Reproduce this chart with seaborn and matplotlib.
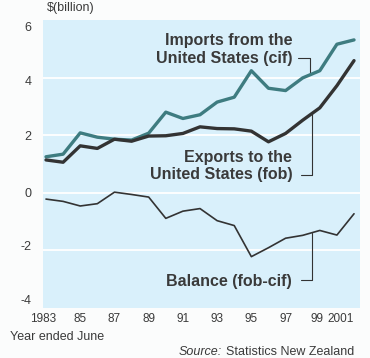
import numpy as np
import pandas as pd
import matplotlib
matplotlib.use("Agg")
import matplotlib.pyplot as plt
import matplotlib.transforms as mtransforms
import seaborn as sns

# Trade with the United States, $ billion, year ended June
years = list(range(1983, 2002))
imports_cif = [1.25, 1.34, 2.08, 1.93, 1.86, 1.83, 2.07, 2.80, 2.58, 2.71,
               3.15, 3.32, 4.24, 3.63, 3.55, 3.99, 4.24, 5.16, 5.31]
exports_fob = [1.14, 1.06, 1.63, 1.54, 1.86, 1.79, 1.97, 1.98, 2.06, 2.29,
               2.23, 2.22, 2.14, 1.77, 2.06, 2.52, 2.95, 3.72, 4.59]
balance = [-0.22, -0.30, -0.46, -0.38, 0.02, -0.06, -0.15, -0.89, -0.64, -0.55,
           -0.97, -1.14, -2.22, -1.91, -1.58, -1.48, -1.31, -1.47, -0.73]

tick_years = [1983, 1985, 1987, 1989, 1991, 1993, 1995, 1997, 1999, 2001]
tick_labels = ['1983', '85', '87', '89', '91', '93', '95', '97', '99', '2001']
y_ticks = [-4, -2, 0, 2, 4, 6]

df = pd.DataFrame({'year': years, 'imports': imports_cif,
                   'exports': exports_fob, 'balance': balance})

sns.set_style("white")
plt.rcParams['font.family'] = ['Liberation Sans', 'DejaVu Sans']

teal = '#3e7c80'
dark = '#333333'
text_col = '#3a3a3a'

fig = plt.figure(figsize=(3.70, 3.58), dpi=100)
fig.patch.set_facecolor('#fbfcfc')
ax = fig.add_axes([0.116, 0.14, 0.857, 0.804])
ax.set_facecolor('#d9f0fb')

ax.set_xlim(1982.82, 2001.35)
ax.set_ylim(-4, 6)
for v in [-2, 0, 2, 4]:
    ax.axhline(v, color='white', lw=1.3, zorder=1)

sns.lineplot(data=df, x='year', y='imports', color=teal, lw=2.4, ax=ax, zorder=3)
sns.lineplot(data=df, x='year', y='exports', color=dark, lw=2.4, ax=ax, zorder=4)
sns.lineplot(data=df, x='year', y='balance', color=dark, lw=1.2, ax=ax, zorder=3)

for s in ax.spines.values():
    s.set_visible(False)
ax.tick_params(length=0, labelsize=9, labelcolor=text_col)
ax.tick_params(axis='x', labelsize=8.5, pad=4)
ax.set_xticks(tick_years)
ax.set_xticklabels(tick_labels)
ax.set_yticks(y_ticks)
ax.set_yticklabels([str(t) for t in y_ticks])
ax.tick_params(axis='y', pad=8)
ax.set_xlabel('')
ax.set_ylabel('')


def nudge(lab, dx, dy):
    lab.set_transform(lab.get_transform() +
                      mtransforms.ScaledTranslation(dx / 100, dy / 100, fig.dpi_scale_trans))


# crowded last labels: "99 2001" sit together at the right edge
xshift = {'1983': -3, '99': -3, '2001': -13}
for lab in ax.get_xticklabels():
    if lab.get_text() in xshift:
        nudge(lab, xshift[lab.get_text()], 0)
# y labels sit a little inside the gridlines in the original
yshift = {'6': -6, '4': -3, '-2': 5, '-4': 8}
for lab in ax.get_yticklabels():
    if lab.get_text() in yshift:
        nudge(lab, 0, yshift[lab.get_text()])

# series labels with leader lines
lab_kw = dict(fontsize=11.5, fontweight='bold', color=text_col,
              ha='right', va='center', multialignment='right')
x_text = 1997.39
ax.text(x_text, 4.98, 'Imports from the\nUnited States (cif)', **lab_kw)
ax.text(x_text, 0.93, 'Exports to the\nUnited States (fob)', **lab_kw)
ax.text(x_text, -3.07, 'Balance (fob-cif)', **lab_kw)

x0, x1 = 1997.75, 1998.4
yi = np.interp(x1, years, imports_cif)
ax.plot([x0, x1, x1], [4.69, 4.69, yi], color=dark, lw=0.8, zorder=2)
x0, x1 = 1997.9, 1998.55
ye = np.interp(x1, years, exports_fob)
ax.plot([x0, x1, x1], [0.62, 0.62, ye], color=dark, lw=0.8, zorder=2)
yb = np.interp(x1, years, balance)
ax.plot([x0, x1, x1], [-3.03, -3.03, yb], color=dark, lw=0.8, zorder=2)

fig.text(47 / 370, 1 - 8 / 358, '$(billion)', fontsize=9, color=text_col,
         ha='left', va='center')
fig.text(10 / 370, 1 - 337 / 358, 'Year ended June', fontsize=9, color=text_col,
         ha='left', va='center')
src = fig.text(354 / 370, 1 - 352 / 358, 'Statistics New Zealand', fontsize=9,
               color=text_col, ha='right', va='center')
fig.canvas.draw()
bb = src.get_window_extent().transformed(fig.transFigure.inverted())
fig.text(bb.x0 - 4 / 370, 1 - 352 / 358, 'Source:', fontsize=9, style='italic',
         color=text_col, ha='right', va='center')

fig.savefig('out.png', dpi=100, facecolor=fig.get_facecolor())
